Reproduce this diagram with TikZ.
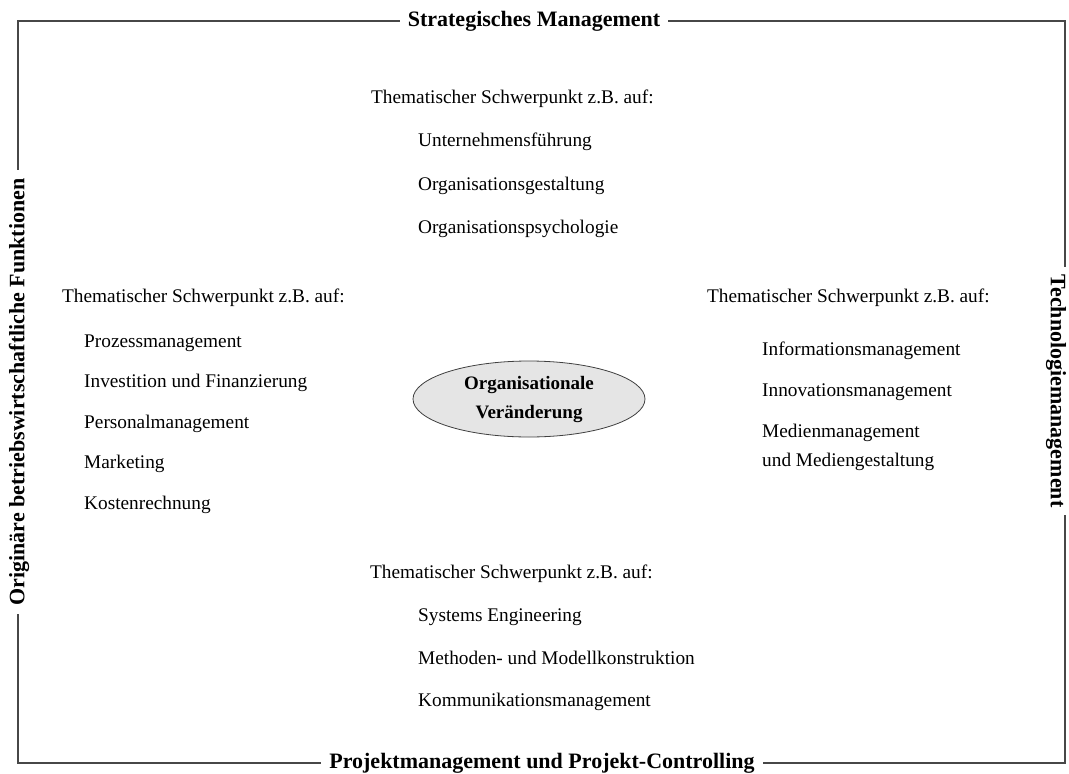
\documentclass[tikz,border=0pt]{standalone}
\usepackage{fontspec}
\setmainfont{Liberation Serif}
\usetikzlibrary{shapes.geometric}
\begin{document}
\begin{tikzpicture}[x=1pt,y=-1pt,
  body/.style={anchor=base west, inner sep=0pt, font=\fontsize{19.3}{22}\selectfont},
  framelabel/.style={fill=white, inner xsep=8pt, inner ysep=2pt,
    font=\fontsize{22}{24}\selectfont\bfseries},
  frameline/.style={draw=black!72, line width=1.4pt},
  core/.style={ellipse, draw=black!75, line width=0.8pt, fill=black!10,
    minimum width=232pt, minimum height=76pt, align=center, inner sep=0pt,
    font=\fontsize{19}{29}\selectfont\bfseries}]
\useasboundingbox (0,0) rectangle (1069,774);

% outer frame with its four labels set into the lines
\draw[frameline] (18,21) rectangle (1065,763);
\node[framelabel] (top) at (534,21) {Strategisches Management};
\node[framelabel] (bottom) at (542,763) {Projektmanagement und Projekt-Controlling};
\node[framelabel, rotate=90] (left) at (19,392) {Originäre betriebswirtschaftliche Funktionen};
\node[framelabel, rotate=-90] (right) at (1056,391) {Technologiemanagement};

% centre
\node[core] (core) at (529,399) {Organisationale\\Veränderung};

% upper block
\node[body] (tH) at (371,103) {Thematischer Schwerpunkt z.B. auf:};
\node[body] (t1) at (418,146) {Unternehmensführung};
\node[body] (t2) at (418,190) {Organisationsgestaltung};
\node[body] (t3) at (418,233) {Organisationspsychologie};

% left block
\node[body] (lH) at (62,302) {Thematischer Schwerpunkt z.B. auf:};
\node[body] (l1) at (84,347) {Prozessmanagement};
\node[body] (l2) at (84,387) {Investition und Finanzierung};
\node[body] (l3) at (84,428) {Personalmanagement};
\node[body] (l4) at (84,468) {Marketing};
\node[body] (l5) at (84,509) {Kostenrechnung};

% right block
\node[body] (rH) at (707,302) {Thematischer Schwerpunkt z.B. auf:};
\node[body] (r1) at (762,355) {Informationsmanagement};
\node[body] (r2) at (762,396) {Innovationsmanagement};
\node[body] (r3) at (762,437) {Medienmanagement};
\node[body] (r4) at (762,466) {und Mediengestaltung};

% lower block
\node[body] (bH) at (370,578) {Thematischer Schwerpunkt z.B. auf:};
\node[body] (b1) at (418,621) {Systems Engineering};
\node[body] (b2) at (418,664) {Methoden- und Modellkonstruktion};
\node[body] (b3) at (418,706) {Kommunikationsmanagement};
\end{tikzpicture}
\end{document}
